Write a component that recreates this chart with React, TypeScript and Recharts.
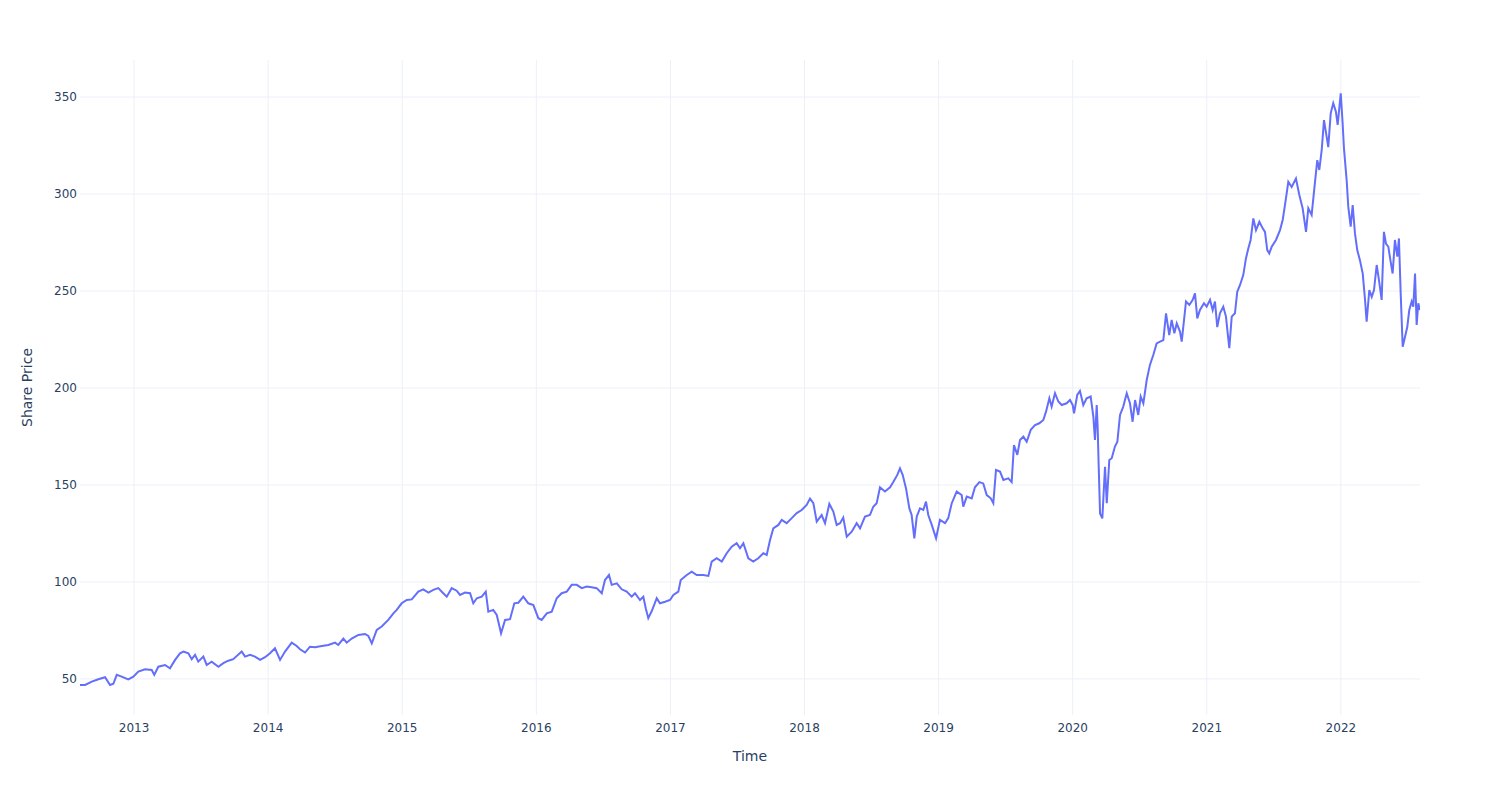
import React from "react";
import {
  LineChart,
  Line,
  XAxis,
  YAxis,
  CartesianGrid,
  Label,
} from "recharts";

// time as decimal years
const dates = [
  2012.597, 2012.635, 2012.685, 2012.734, 2012.784, 2012.821, 2012.846, 2012.871, 2012.908, 2012.957,
  2012.995, 2013.032, 2013.082, 2013.132, 2013.151, 2013.181, 2013.231, 2013.268, 2013.306, 2013.343,
  2013.368, 2013.405, 2013.43, 2013.455, 2013.479, 2013.517, 2013.542, 2013.579, 2013.629, 2013.666,
  2013.703, 2013.74, 2013.803, 2013.828, 2013.865, 2013.902, 2013.94, 2013.977, 2014.014, 2014.051,
  2014.089, 2014.126, 2014.176, 2014.213, 2014.238, 2014.275, 2014.312, 2014.35, 2014.4, 2014.449,
  2014.499, 2014.523, 2014.561, 2014.586, 2014.623, 2014.673, 2014.723, 2014.747, 2014.773, 2014.81,
  2014.847, 2014.896, 2014.934, 2014.959, 2014.996, 2015.034, 2015.071, 2015.12, 2015.157, 2015.195,
  2015.232, 2015.269, 2015.306, 2015.332, 2015.369, 2015.406, 2015.431, 2015.468, 2015.506, 2015.53,
  2015.556, 2015.593, 2015.623, 2015.642, 2015.679, 2015.705, 2015.737, 2015.767, 2015.804, 2015.836,
  2015.866, 2015.903, 2015.94, 2015.978, 2016.015, 2016.04, 2016.078, 2016.115, 2016.152, 2016.189,
  2016.227, 2016.264, 2016.301, 2016.339, 2016.376, 2016.413, 2016.45, 2016.488, 2016.512, 2016.542,
  2016.562, 2016.6, 2016.637, 2016.674, 2016.711, 2016.736, 2016.773, 2016.798, 2016.816, 2016.835,
  2016.861, 2016.898, 2016.922, 2016.96, 2016.997, 2017.022, 2017.059, 2017.077, 2017.122, 2017.159,
  2017.196, 2017.245, 2017.283, 2017.308, 2017.345, 2017.383, 2017.42, 2017.457, 2017.494, 2017.519,
  2017.544, 2017.581, 2017.618, 2017.655, 2017.693, 2017.718, 2017.743, 2017.767, 2017.805, 2017.83,
  2017.867, 2017.905, 2017.942, 2017.979, 2018.016, 2018.041, 2018.066, 2018.091, 2018.128, 2018.153,
  2018.185, 2018.215, 2018.24, 2018.265, 2018.289, 2018.315, 2018.352, 2018.389, 2018.414, 2018.451,
  2018.488, 2018.513, 2018.538, 2018.563, 2018.6, 2018.638, 2018.662, 2018.692, 2018.712, 2018.732,
  2018.757, 2018.782, 2018.799, 2018.819, 2018.837, 2018.861, 2018.886, 2018.906, 2018.923, 2018.949,
  2018.981, 2019.01, 2019.048, 2019.072, 2019.098, 2019.135, 2019.172, 2019.184, 2019.21, 2019.247,
  2019.271, 2019.304, 2019.333, 2019.359, 2019.389, 2019.408, 2019.428, 2019.458, 2019.483, 2019.52,
  2019.545, 2019.562, 2019.587, 2019.607, 2019.632, 2019.657, 2019.687, 2019.719, 2019.751, 2019.781,
  2019.801, 2019.826, 2019.843, 2019.868, 2019.893, 2019.918, 2019.955, 2019.98, 2020.0, 2020.01,
  2020.034, 2020.054, 2020.079, 2020.104, 2020.134, 2020.154, 2020.166, 2020.179, 2020.186, 2020.194,
  2020.204, 2020.221, 2020.241, 2020.254, 2020.273, 2020.291, 2020.315, 2020.333, 2020.353, 2020.377,
  2020.403, 2020.427, 2020.447, 2020.465, 2020.489, 2020.507, 2020.527, 2020.552, 2020.576, 2020.601,
  2020.626, 2020.651, 2020.676, 2020.696, 2020.72, 2020.738, 2020.758, 2020.776, 2020.8, 2020.813,
  2020.845, 2020.87, 2020.895, 2020.912, 2020.929, 2020.949, 2020.979, 2020.999, 2021.024, 2021.044,
  2021.061, 2021.078, 2021.098, 2021.123, 2021.143, 2021.156, 2021.168, 2021.186, 2021.21, 2021.227,
  2021.248, 2021.272, 2021.292, 2021.31, 2021.327, 2021.347, 2021.367, 2021.392, 2021.417, 2021.434,
  2021.451, 2021.466, 2021.484, 2021.516, 2021.546, 2021.566, 2021.583, 2021.608, 2021.633, 2021.665,
  2021.69, 2021.715, 2021.74, 2021.757, 2021.782, 2021.807, 2021.824, 2021.839, 2021.857, 2021.874,
  2021.894, 2021.906, 2021.924, 2021.943, 2021.963, 2021.976, 2021.999, 2022.013, 2022.023, 2022.043,
  2022.055, 2022.073, 2022.088, 2022.105, 2022.122, 2022.142, 2022.163, 2022.18, 2022.192, 2022.212,
  2022.23, 2022.247, 2022.267, 2022.284, 2022.304, 2022.321, 2022.336, 2022.354, 2022.371, 2022.386,
  2022.403, 2022.421, 2022.433, 2022.446, 2022.461, 2022.478, 2022.495, 2022.51, 2022.528, 2022.54,
  2022.553, 2022.565, 2022.577, 2022.59,
];

const prices = [
  46.9, 46.9, 48.6, 49.8, 50.9, 46.9, 47.5, 52.1, 51.2, 49.8,
  51.2, 53.8, 55.0, 54.6, 52.1, 56.3, 57.2, 55.5, 59.8, 63.2,
  64.1, 63.2, 60.2, 62.4, 58.9, 61.5, 57.2, 58.9, 56.3, 58.1,
  59.4, 60.2, 64.1, 61.5, 62.4, 61.5, 59.8, 61.2, 63.2, 65.8,
  59.8, 64.1, 68.7, 67.0, 65.3, 63.6, 66.6, 66.3, 67.0, 67.5,
  68.7, 67.5, 70.8, 68.7, 70.8, 72.7, 73.2, 72.2, 68.3, 75.3,
  77.0, 80.4, 83.8, 85.6, 89.0, 90.7, 91.0, 95.0, 96.2, 94.5,
  95.9, 96.8, 94.2, 92.4, 96.8, 95.5, 93.3, 94.5, 94.2, 89.0,
  91.6, 92.4, 95.0, 84.7, 85.6, 83.0, 73.5, 80.4, 80.8, 89.0,
  89.3, 92.4, 89.0, 88.1, 81.3, 80.4, 83.8, 84.7, 91.6, 94.2,
  95.0, 98.5, 98.5, 96.8, 97.6, 97.3, 96.8, 94.2, 101.0, 103.6,
  98.5, 99.3, 96.2, 95.0, 92.4, 94.2, 90.7, 92.4, 86.4, 81.3,
  85.0, 91.6, 89.0, 89.8, 90.7, 93.3, 95.0, 101.0, 103.6, 105.3,
  103.6, 103.6, 103.1, 110.5, 112.2, 110.5, 114.8, 118.2, 120.0, 117.4,
  120.0, 112.2, 110.5, 112.2, 114.8, 113.9, 121.6, 127.6, 129.4, 132.0,
  130.3, 132.9, 135.5, 137.1, 139.7, 143.0, 140.6, 131.1, 134.5, 130.3,
  140.2, 136.3, 129.4, 130.3, 133.2, 123.3, 125.9, 130.3, 127.6, 133.7,
  134.5, 138.8, 140.6, 148.8, 146.6, 148.8, 151.5, 155.2, 158.6, 155.2,
  148.2, 137.9, 134.5, 122.5, 133.7, 137.9, 137.1, 141.4, 134.5, 129.4,
  122.5, 132.0, 130.3, 132.9, 140.6, 146.6, 144.8, 138.8, 144.0, 143.1,
  148.8, 151.5, 150.8, 144.8, 143.1, 140.6, 157.7, 156.9, 152.6, 153.4,
  151.5, 170.6, 165.5, 173.2, 174.9, 172.3, 178.4, 180.9, 181.8, 183.5,
  187.8, 194.7, 190.4, 197.3, 193.0, 191.2, 192.1, 193.8, 191.2, 186.9,
  196.4, 198.5, 191.2, 194.7, 195.6, 185.2, 173.2, 191.2, 180.1, 159.4,
  135.3, 132.8, 159.4, 140.6, 162.9, 163.8, 169.8, 172.3, 186.1, 190.4,
  197.3, 192.1, 182.6, 193.8, 186.1, 195.6, 192.1, 204.1, 211.9, 217.0,
  223.0, 223.9, 224.7, 238.5, 227.3, 235.1, 228.2, 233.3, 229.1, 223.9,
  244.6, 242.8, 245.4, 248.8, 235.9, 240.2, 243.7, 241.9, 245.4, 240.2,
  244.6, 231.4, 238.5, 241.9, 236.8, 228.2, 220.5, 236.8, 238.5, 249.6,
  253.1, 258.2, 266.8, 272.0, 276.3, 287.4, 281.4, 285.7, 282.3, 280.5,
  271.1, 269.4, 272.8, 276.3, 281.4, 286.6, 294.3, 306.3, 303.6, 308.0,
  299.5, 292.6, 280.5, 292.6, 289.2, 306.3, 317.5, 312.4, 322.7, 338.1,
  329.5, 324.2, 341.6, 346.8, 342.4, 335.6, 351.9, 336.5, 323.5, 307.2,
  293.5, 283.2, 294.3, 279.7, 271.1, 265.9, 259.0, 245.4, 234.2, 250.5,
  247.0, 250.5, 263.4, 255.6, 245.4, 280.5, 274.5, 272.8, 265.1, 259.0,
  276.3, 267.7, 277.1, 248.7, 221.3, 226.3, 231.4, 240.2, 244.6, 241.9,
  259.0, 232.5, 243.7, 240.2,
];

const yearTicks = [2013, 2014, 2015, 2016, 2017, 2018, 2019, 2020, 2021, 2022];
const priceTicks = [50, 100, 150, 200, 250, 300, 350];

const data = dates.map((t, i) => ({ time: t, price: prices[i] }));

const font = '"DejaVu Sans", "Open Sans", sans-serif';
const inkColor = "#2a3f5f";

export default function App() {
  return (
    <div style={{ position: "absolute", left: 0, top: 0, background: "#fff" }}>
      <LineChart
        width={1500}
        height={800}
        data={data}
        margin={{ top: 60, right: 80, bottom: 30, left: 0 }}
        style={{ fontFamily: font }}
      >
        <CartesianGrid
          stroke="#ebf0f8"
          strokeWidth={1}
          horizontalValues={priceTicks}
          verticalValues={yearTicks}
        />
        <XAxis
          dataKey="time"
          type="number"
          domain={[2012.597, 2022.59]}
          ticks={yearTicks}
          allowDataOverflow
          axisLine={false}
          tickLine={false}
          tickSize={0}
          tickMargin={8}
          height={55}
          tick={{ fontSize: 12, fill: inkColor }}
        >
          <Label
            value="Time"
            position="insideBottom"
            offset={9}
            style={{ fontSize: 14, fill: inkColor }}
          />
        </XAxis>
        <YAxis
          type="number"
          domain={[31.4, 369.1]}
          ticks={priceTicks}
          allowDataOverflow
          axisLine={false}
          tickLine={false}
          tickSize={0}
          tickMargin={3}
          width={80}
          tick={{ fontSize: 12, fill: inkColor }}
        >
          <Label
            value="Share Price"
            angle={-90}
            position="insideLeft"
            offset={27}
            style={{ fontSize: 14, fill: inkColor, textAnchor: "middle" }}
          />
        </YAxis>
        <Line
          type="linear"
          dataKey="price"
          stroke="#636efa"
          strokeWidth={2}
          dot={false}
          activeDot={false}
          isAnimationActive={false}
        />
      </LineChart>
    </div>
  );
}
